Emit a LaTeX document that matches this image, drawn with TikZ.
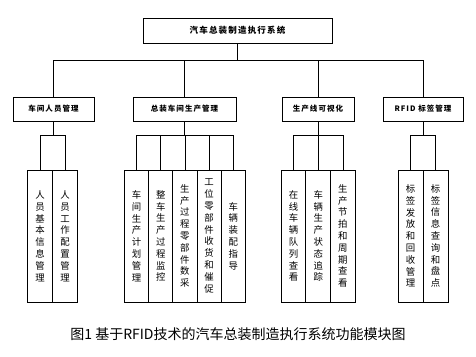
\documentclass[tikz,border=0pt]{standalone}
\usepackage{fontspec}
\setmainfont{Noto Sans CJK SC}
\newfontfamily\spacedfont[LetterSpace=14]{Noto Sans CJK SC}
\usepackage{tikz}
\usetikzlibrary{positioning, calc}

\tikzset{
    topbox/.style={draw, line width=0.8pt, minimum width=189pt, minimum height=25pt,
        inner sep=0pt, font=\spacedfont\bfseries\fontsize{8.5}{10}\selectfont},
    modbox/.style={draw, line width=0.8pt, minimum height=24pt,
        inner sep=0pt, font=\spacedfont\bfseries\fontsize{7.5}{9}\selectfont},
    leafbox/.style={draw, line width=0.8pt, minimum width=24.5pt, minimum height=132pt,
        inner sep=0pt, align=center, font=\fontsize{9.4}{11.8}\selectfont},
    link/.style={line width=0.8pt}
}

\begin{document}
\begin{tikzpicture}[x=1pt, y=-1pt]
    \useasboundingbox (0,0) rectangle (476,356);
    % Top level
    \node[topbox] (mes) at (237.5,30.5) {汽车总装制造执行系统};
    % Modules
    \node[modbox, minimum width=81pt]  (staff) at (53.5,109) {车间人员管理};
    \node[modbox, minimum width=103pt] (prod)  at (184.5,109) {总装车间生产管理};
    \node[modbox, minimum width=72pt]  (vis)   at (318,109) {生产线可视化};
    \node[modbox, minimum width=80pt]  (rfid)  at (423,109) {RFID 标签管理};
    % Leaves of staff
    \node[leafbox] (staffA) at (40,236) {人\\员\\基\\本\\信\\息\\管\\理};
    \node[leafbox] (staffB) at (65,236) {人\\员\\工\\作\\配\\置\\管\\理};
    % Leaves of prod
    \node[leafbox, minimum width=24.2pt] (prodA) at (136.5,236) {车\\间\\生\\产\\计\\划\\管\\理};
    \node[leafbox, minimum width=24.2pt] (prodB) at (160.7,236) {整\\车\\生\\产\\过\\程\\监\\控};
    \node[leafbox, minimum width=24.2pt] (prodC) at (184.9,236) {生\\产\\过\\程\\零\\部\\件\\数\\采};
    \node[leafbox, minimum width=24.2pt] (prodD) at (209.1,236) {工\\位\\零\\部\\件\\收\\货\\和\\催\\促};
    \node[leafbox, minimum width=24.2pt] (prodE) at (233.3,236) {车\\辆\\装\\配\\指\\导};
    % Leaves of vis
    \node[leafbox, minimum width=24.7pt] (visA) at (293.5,236) {在\\线\\车\\辆\\队\\列\\查\\看};
    \node[leafbox, minimum width=24.7pt] (visB) at (318.2,236) {车\\辆\\生\\产\\状\\态\\追\\踪};
    \node[leafbox, minimum width=24.7pt] (visC) at (342.9,236) {生\\产\\节\\拍\\和\\周\\期\\查\\看};
    % Leaves of rfid
    \node[leafbox, minimum width=25pt] (rfidA) at (410.5,236) {标\\签\\发\\放\\和\\回\\收\\管\\理};
    \node[leafbox, minimum width=25pt] (rfidB) at (435.5,236) {标\\签\\信\\息\\查\\询\\和\\盘\\点};
    % Tree connectors
    \draw[link] (mes.south) -- ++(0,17) coordinate (bus);
    \foreach \m in {staff, prod, vis, rfid} {
        \draw[link] (bus) -| (\m.north);
    }
    \draw[link] (staff.south) -- ++(0,14) coordinate (staffbus);
    \foreach \l in {staffA, staffB} {
        \draw[link] (staffbus) -| (\l.north);
    }
    \draw[link] (prod.south) -- ++(0,14) coordinate (prodbus);
    \foreach \l in {prodA, prodB, prodC, prodD, prodE} {
        \draw[link] (prodbus) -| (\l.north);
    }
    \draw[link] (vis.south) -- ++(0,14) coordinate (visbus);
    \foreach \l in {visA, visB, visC} {
        \draw[link] (visbus) -| (\l.north);
    }
    \draw[link] (rfid.south) -- ++(0,14) coordinate (rfidbus);
    \foreach \l in {rfidA, rfidB} {
        \draw[link] (rfidbus) -| (\l.north);
    }
    % Caption
    \node[font=\fontsize{14}{16}\selectfont] (caption) at (238,334)
        {图1 基于RFID技术的汽车总装制造执行系统功能模块图};
\end{tikzpicture}
\end{document}
